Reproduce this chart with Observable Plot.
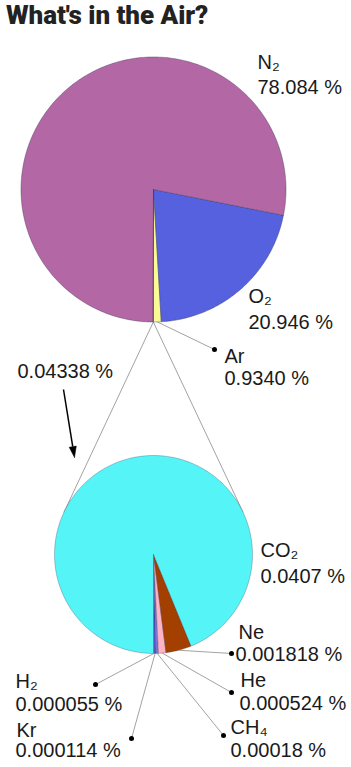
<!DOCTYPE html>
<html><head><meta charset="utf-8">
<script src="https://cdn.jsdelivr.net/npm/d3@7"></script>
<script src="https://cdn.jsdelivr.net/npm/@observablehq/plot@0.6"></script>
<style>
body{margin:0;background:#fff;width:351px;overflow:hidden}
#title{font-family:Roboto,"Open Sans",sans-serif;font-weight:900;font-size:26px;color:#222;height:30px;line-height:30px;padding-left:6px;letter-spacing:-0.05px;white-space:nowrap}
#chart svg{display:block}
</style></head><body>
<div id="title">What's in the Air?</div>
<div id="chart"></div>
<script>
// ---- data ----
const topGases = ["Ar", "O₂", "N₂", "trace"];
const topValues = [0.934, 20.946, 78.084, 0.04338];
const topLabels = ["0.9340 %", "20.946 %", "78.084 %", ""];
const topColors = ["#fbfb96", "#5661e0", "#b467a5", "#55f4f7"];

const traceGases = ["H₂", "Kr", "CH₄", "He", "Ne", "CO₂"];
const traceValues = [0.000055, 0.000114, 0.00018, 0.000524, 0.001818, 0.0407];
const traceLabels = ["0.000055 %", "0.000114 %", "0.00018 %", "0.000524 %", "0.001818 %", "0.0407 %"];
const traceColors = ["#2e2e86", "#4a4ad0", "#7a7ae0", "#ffb3c4", "#a34000", "#55f4f7"];
const traceTotalLabel = "0.04338 %";

// ---- layout ----
const W = 351, H = 767, TOP = 30;
const pieTop = {cx: 153, cy: 189, r: 132.5};
const pieBottom = {cx: 153, cy: 554, r: 99};
const topLayout = {
  "Ar": {x1: 224, x2: 224, y1: 362, y2: 384, dot: [214, 349]},
  "O₂": {x1: 248, x2: 248, y1: 302, y2: 328},
  "N₂": {x1: 257, x2: 257, y1: 68, y2: 93}
};
const traceLayout = {
  "H₂": {x1: 15, x2: 15, y1: 687, y2: 710, dot: [95, 684]},
  "Kr": {x1: 16, x2: 15, y1: 736, y2: 756, dot: [131, 738]},
  "CH₄": {x1: 230, x2: 230, y1: 733, y2: 756, dot: [223, 735]},
  "He": {x1: 240, x2: 239, y1: 686, y2: 709, dot: [231, 692]},
  "Ne": {x1: 238, x2: 235, y1: 638, y2: 660, dot: [231, 653]},
  "CO₂": {x1: 260, x2: 260, y1: 556, y2: 582}
};
const totalLayout = {x: 17, y: 377, arrow: [63, 389, 74, 457]};

// ---- geometry helpers (angles measured from 6 o'clock, counter-clockwise on screen) ----
function pieGeometry(names, values, colors, pie) {
  const total = d3.sum(values);
  const pts = [], mids = [];
  let a = 0;
  names.forEach((n, i) => {
    const span = values[i] / total * 2 * Math.PI;
    const a0 = a, a1 = a + span; a = a1;
    const steps = Math.max(2, Math.ceil(span / (Math.PI / 180)));
    pts.push({name: n, color: colors[i], x: pie.cx, y: pie.cy});
    for (let k = 0; k <= steps; k++) {
      const t = a0 + (a1 - a0) * k / steps;
      pts.push({name: n, color: colors[i], x: pie.cx + pie.r * Math.sin(t), y: pie.cy + pie.r * Math.cos(t)});
    }
    pts.push({name: n, color: colors[i], x: pie.cx, y: pie.cy});
    const m = (a0 + a1) / 2;
    mids.push({name: n, x: pie.cx + pie.r * Math.sin(m), y: pie.cy + pie.r * Math.cos(m)});
  });
  return {pts, mids};
}
const gTop = pieGeometry(topGases, topValues, topColors, pieTop);
const gBot = pieGeometry(traceGases, traceValues, traceColors, pieBottom);

// tangent lines from the trace slice of the top pie to the bottom pie
const apex = gTop.mids[3];
const dx = pieBottom.cx - apex.x, dy = pieBottom.cy - apex.y;
const d = Math.hypot(dx, dy), phi = Math.atan2(dy, dx), alpha = Math.asin(pieBottom.r / d);
const L = Math.sqrt(d * d - pieBottom.r * pieBottom.r);
const tangents = [phi - alpha, phi + alpha].map(t => ({x1: apex.x, y1: apex.y, x2: apex.x + L * Math.cos(t), y2: apex.y + L * Math.sin(t)}));

// labels
const nameRows = [], valueRows = [], leaders = [], dots = [];
topGases.forEach((n, i) => {
  const lay = topLayout[n]; if (!lay) return;
  nameRows.push({t: n, x: lay.x1, y: lay.y1});
  valueRows.push({t: topLabels[i], x: lay.x2, y: lay.y2});
  if (lay.dot) { leaders.push({x1: gTop.mids[i].x, y1: gTop.mids[i].y, x2: lay.dot[0], y2: lay.dot[1]}); dots.push({x: lay.dot[0], y: lay.dot[1]}); }
});
traceGases.forEach((n, i) => {
  const lay = traceLayout[n];
  nameRows.push({t: n, x: lay.x1, y: lay.y1});
  valueRows.push({t: traceLabels[i], x: lay.x2, y: lay.y2});
  if (lay.dot) { leaders.push({x1: gBot.mids[i].x, y1: gBot.mids[i].y, x2: lay.dot[0], y2: lay.dot[1]}); dots.push({x: lay.dot[0], y: lay.dot[1]}); }
});
valueRows.push({t: traceTotalLabel, x: totalLayout.x, y: totalLayout.y});

// arrow
const [ax1, ay1, ax2, ay2] = totalLayout.arrow;
const alen = Math.hypot(ax2 - ax1, ay2 - ay1), ux = (ax2 - ax1) / alen, uy = (ay2 - ay1) / alen;
const headL = 11, headW = 3.6;
const bx = ax2 - ux * headL, by = ay2 - uy * headL;
const head = [
  {x: ax2, y: ay2}, {x: bx - uy * headW, y: by + ux * headW}, {x: bx + uy * headW, y: by - ux * headW}, {x: ax2, y: ay2}
];

const plot = Plot.plot({
  width: W, height: H - TOP, margin: 0,
  x: {domain: [0, W], range: [0, W], axis: null},
  y: {domain: [TOP, H], range: [0, H - TOP], axis: null},
  color: {type: "identity"},
  style: {fontFamily: '"Liberation Sans", Arial, sans-serif', fontSize: "20px", color: "#1a1a1a", background: "white", overflow: "visible"},
  marks: [
    Plot.link(tangents, {x1: "x1", y1: "y1", x2: "x2", y2: "y2", stroke: "#8a8a8a", strokeWidth: 0.8}),
    Plot.line(gTop.pts, {x: "x", y: "y", z: "name", fill: "color", stroke: "#3a3a5a", strokeWidth: 0.5, strokeOpacity: 0.8, strokeLinejoin: "round"}),
    Plot.line(gBot.pts, {x: "x", y: "y", z: "name", fill: "color", stroke: "#3a3a5a", strokeWidth: 0.5, strokeOpacity: 0.6, strokeLinejoin: "round"}),
    Plot.link(leaders, {x1: "x1", y1: "y1", x2: "x2", y2: "y2", stroke: "#8a8a8a", strokeWidth: 0.8}),
    Plot.dot(dots, {x: "x", y: "y", r: 2.5, fill: "black", stroke: null}),
    Plot.link([{x1: ax1, y1: ay1, x2: bx, y2: by}], {x1: "x1", y1: "y1", x2: "x2", y2: "y2", stroke: "black", strokeWidth: 1.5}),
    Plot.line(head, {x: "x", y: "y", fill: "black", stroke: "black", strokeWidth: 0.5}),
    Plot.text(nameRows, {x: "x", y: "y", text: "t", textAnchor: "start", lineAnchor: "bottom", fill: "#1a1a1a"}),
    Plot.text(valueRows, {x: "x", y: "y", text: "t", textAnchor: "start", lineAnchor: "bottom", fill: "#1a1a1a"})
  ]
});
document.getElementById("chart").appendChild(plot);
</script>
</body></html>
